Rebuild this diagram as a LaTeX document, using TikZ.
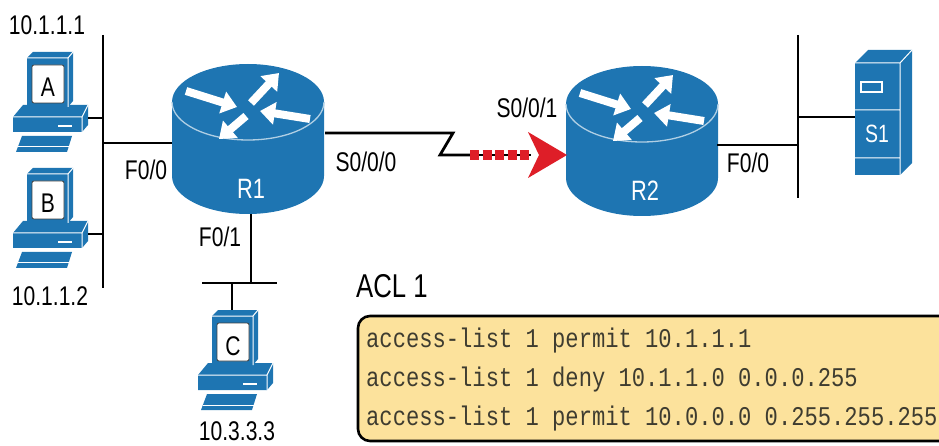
\documentclass[tikz,border=0pt]{standalone}
\usepackage{fontspec}
\setmainfont{Liberation Sans}[FakeStretch=0.78]
\newfontfamily\acltt{Liberation Mono}[FakeStretch=0.82]
\usetikzlibrary{arrows.meta}
\definecolor{cblue}{RGB}{30,117,178}
\definecolor{aclfill}{RGB}{252,226,156}
\definecolor{acltext}{RGB}{62,60,48}
\definecolor{sred}{RGB}{222,30,40}
\tikzset{
  lbl/.style={font=\fontsize{27}{30}\selectfont, inner sep=0pt, anchor=base},
  wlbl/.style={lbl, text=white},
  link/.style={line width=2.8pt, black},
  edge/.style={white, line width=1pt},
  rarrow/.style={white, line width=8pt, -{Triangle[length=15pt,width=22pt]}},
  acl/.style={font=\acltt\fontsize{27}{30}\selectfont, text=acltext, inner sep=0pt, anchor=base west},
  pics/pc/.style={code={
    % base unit
    \fill[cblue] (-34,30) -- (-24,18) -- (41,18) -- (41,38) -- (35,45) -- (-34,45) -- cycle;
    \draw[edge] (-34,30) -- (35,30) -- (41,18) (35,30) -- (35,45);
    \draw[white, line width=2pt] (11,39) -- (25,39);
    % keyboard
    \fill[cblue] (-31,65) -- (-25,49) -- (25,49) -- (20,65) -- cycle;
    \draw[edge] (-29,60) -- (22,60);
    % monitor
    \fill[cblue] (-20,-29) -- (-14,-35) -- (26,-35) -- (26,14) -- (21,20) -- (-20,20) -- cycle;
    \draw[edge] (-20,-29) -- (21,-29) -- (26,-35) (21,-29) -- (21,20);
    \filldraw[fill=white, draw=black!75, line width=0.8pt, rounded corners=2pt] (-15,-22) rectangle (17,16);
    \node[lbl] (-name) at (1,10) {#1};
    \coordinate (-port) at (41,31);
    \coordinate (-top) at (0,-35);
  }},
  pics/router/.style={code={
    \fill[cblue] (-76,0) -- (-76,74) arc[start angle=180, end angle=0, x radius=76, y radius=38] -- (76,0) -- cycle;
    \fill[cblue] (0,0) ellipse[x radius=76, y radius=38];
    \draw[white!65!cblue, line width=1.3pt] (-76,0) arc[start angle=180, end angle=0, x radius=76, y radius=38];
    \draw[rarrow] (-62,-11) -- (-11,5);
    \draw[rarrow] (3,1) -- (31,-29);
    \draw[rarrow] (62,17) -- (12,9);
    \draw[rarrow] (-2,14) -- (-29,37);
    \node[wlbl, font=\fontsize{28}{30}\selectfont] (-name) at (3,97) {#1};
  }},
}
\begin{document}
\begin{tikzpicture}[x=1pt,y=-1pt]
\useasboundingbox (0,0) rectangle (939,446);
\clip (0,0) rectangle (939,446);

% devices
\pic (pcA) at (47,87) {pc=A};
\pic (pcB) at (47,203) {pc=B};
\pic (pcC) at (232,345) {pc=C};
\pic (R1) at (248,102) {router=R1};
\pic (R2) at (642,104) {router=R2};

% server S1
\fill[cblue] (855,63) -- (868,50) -- (912,50) -- (912,163) -- (900,175) -- (855,175) -- cycle;
\draw[edge] (855,63) -- (900,63) -- (912,50) (900,63) -- (900,175) (855,110) -- (900,110) (855,158) -- (900,158);
\draw[white, line width=1.3pt] (861,82) rectangle (882,92);
\node[wlbl, font=\fontsize{25}{28}\selectfont] (S1) at (877,143) {S1};
\coordinate (S1-port) at (855,117);

% coordinates
\coordinate (busL-top) at (103,35);
\coordinate (busL-bot) at (103,288);
\coordinate (R1-f00) at (172,143);
\coordinate (R1-s000) at (325,133);
\coordinate (R1-f01) at (251,214);
\coordinate (busC-l) at (202,283);
\coordinate (busC-r) at (277,283);
\coordinate (zz1) at (453,133);
\coordinate (zz2) at (440,155);
\coordinate (rd1) at (470,155);
\coordinate (rd2) at (531,155);
\coordinate (R2-s001) at (567,155);
\coordinate (R2-f00) at (717,145);
\coordinate (busR-top) at (798,35);
\coordinate (busR-bot) at (798,198);

% links
\draw[link] (busL-top) -- (busL-bot);
\draw[link] (pcA-port) -- (pcA-port -| busL-top);
\draw[link] (pcB-port) -- (pcB-port -| busL-top);
\draw[link] (R1-f00 -| busL-top) -- (R1-f00);
\draw[link] (R1-f01) -- (R1-f01 |- busC-l);
\draw[link] (busC-l) -- (busC-r);
\draw[link] (pcC-top |- busC-l) -- (pcC-top);
\draw[link, line join=miter] (R1-s000) -- (zz1) -- (zz2) -- (rd1);
\draw[black, line width=2.8pt] (rd1) -- (rd2);
\draw[sred, line width=10pt, dash pattern=on 9pt off 3.5pt] (rd1) -- (rd2);
\fill[sred] (R2-s001) -- ++(-39,-23) -- ++(11,23) -- ++(-11,23) -- cycle;
\draw[link] (R2-f00) -- (R2-f00 -| busR-top);
\draw[link] (busR-top) -- (busR-bot);
\draw[link] (S1-port -| busR-top) -- (S1-port);

% labels
\node[lbl] (ipA) at (47,35) {10.1.1.1};
\node[lbl] (ipB) at (50,305) {10.1.1.2};
\node[lbl] (ipC) at (237,440) {10.3.3.3};
\node[lbl] (lf00) at (146,180) {F0/0};
\node[lbl] (ls000) at (366,172) {S0/0/0};
\node[lbl] (ls001) at (527,118) {S0/0/1};
\node[lbl] (lf01) at (220,247) {F0/1};
\node[lbl] (lf00b) at (748,173) {F0/0};

% ACL box
\node[lbl, anchor=base west, font=\fontsize{33}{36}\selectfont] (acltitle) at (356,298) {ACL 1};
\draw[line width=2.6pt, fill=aclfill, rounded corners=12pt] (358,316) rectangle (980,441);
\node[acl] (acl1) at (366,347) {access-list 1 permit 10.1.1.1};
\node[acl] (acl2) at (366,386) {access-list 1 deny 10.1.1.0 0.0.0.255};
\node[acl] (acl3) at (366,425) {access-list 1 permit 10.0.0.0 0.255.255.255};
\end{tikzpicture}
\end{document}
